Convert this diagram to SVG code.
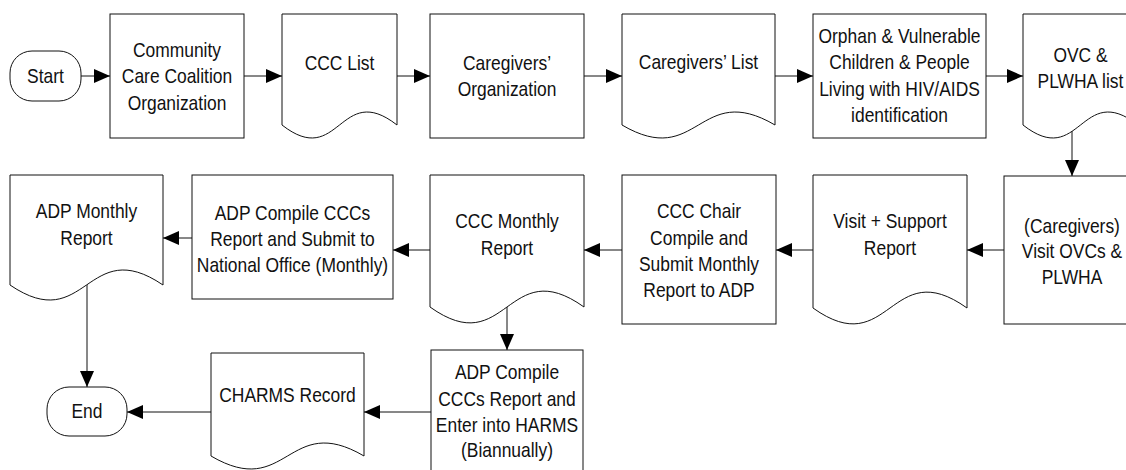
<svg xmlns="http://www.w3.org/2000/svg" width="1126" height="470" viewBox="0 0 1126 470">
<style>
.n{fill:#fff;stroke:#111;stroke-width:1}
.c{fill:none;stroke:#111;stroke-width:1}
.t{font-family:"Liberation Sans",Arial,sans-serif;font-size:20.5px;text-anchor:middle;fill:#111}
</style>
<defs>
<marker id="ah" markerUnits="userSpaceOnUse" markerWidth="16" markerHeight="14" refX="16" refY="7" orient="auto">
<path d="M0,0 L16,7 L0,14 Z" fill="#000"/>
</marker>
</defs>
<rect width="1126" height="470" fill="#fff"/>
<g id="connectors">
<path class="c" d="M81,76 H110" marker-end="url(#ah)"/>
<path class="c" d="M244,76 H282" marker-end="url(#ah)"/>
<path class="c" d="M397,76 H430" marker-end="url(#ah)"/>
<path class="c" d="M584,76 H622" marker-end="url(#ah)"/>
<path class="c" d="M775,76 H813" marker-end="url(#ah)"/>
<path class="c" d="M986,76 H1023" marker-end="url(#ah)"/>
<path class="c" d="M1072,128 V176" marker-end="url(#ah)"/>
<path class="c" d="M1004,250 H967" marker-end="url(#ah)"/>
<path class="c" d="M813,250 H776" marker-end="url(#ah)"/>
<path class="c" d="M622,250 H584" marker-end="url(#ah)"/>
<path class="c" d="M430,250 H393" marker-end="url(#ah)"/>
<path class="c" d="M192,238 H163" marker-end="url(#ah)"/>
<path class="c" d="M87,284 V387" marker-end="url(#ah)"/>
<path class="c" d="M507,307 V350" marker-end="url(#ah)"/>
<path class="c" d="M431,412 H364" marker-end="url(#ah)"/>
<path class="c" d="M211,412 H127" marker-end="url(#ah)"/>
</g>
<g id="start">
<rect class="n" x="10" y="51" width="71" height="50" rx="22"/>
<text class="t" transform="translate(45.5,0) scale(0.85,1)" x="0" y="83">Start</text>
</g>
<g id="ccc-org">
<rect class="n" x="110" y="14" width="134" height="124"/>
<g transform="translate(177,0) scale(0.85,1)">
<text class="t" x="0" y="57">Community</text>
<text class="t" x="0" y="83.5">Care Coalition</text>
<text class="t" x="0" y="110">Organization</text>
</g>
</g>
<g id="ccc-list">
<path class="n" d="M282,14 H397 V125 C339.5,80 339.5,170 282,125 Z"/>
<text class="t" transform="translate(339.5,0) scale(0.85,1)" x="0" y="70">CCC List</text>
</g>
<g id="cg-org">
<rect class="n" x="430" y="14" width="154" height="124"/>
<g transform="translate(507,0) scale(0.85,1)">
<text class="t" x="0" y="70">Caregivers’</text>
<text class="t" x="0" y="96">Organization</text>
</g>
</g>
<g id="cg-list">
<path class="n" d="M622,14 H775 V125 C698.5,80 698.5,170 622,125 Z"/>
<text class="t" transform="translate(698.5,0) scale(0.85,1)" x="0" y="69">Caregivers’ List</text>
</g>
<g id="ovc-id">
<rect class="n" x="813" y="14" width="173" height="124"/>
<g transform="translate(899.5,0) scale(0.85,1)">
<text class="t" x="0" y="43">Orphan &amp; Vulnerable</text>
<text class="t" x="0" y="69">Children &amp; People</text>
<text class="t" x="0" y="96">Living with HIV/AIDS</text>
<text class="t" x="0" y="122">identification</text>
</g>
</g>
<g id="ovc-list">
<path class="n" d="M1023,14 H1138 V125 C1080.5,80 1080.5,170 1023,125 Z"/>
<g transform="translate(1080.5,0) scale(0.85,1)">
<text class="t" x="0" y="62">OVC &amp;</text>
<text class="t" x="0" y="88">PLWHA list</text>
</g>
</g>
<g id="visit">
<rect class="n" x="1004" y="176" width="136" height="148"/>
<g transform="translate(1072,0) scale(0.85,1)">
<text class="t" x="0" y="233">(Caregivers)</text>
<text class="t" x="0" y="258">Visit OVCs &amp;</text>
<text class="t" x="0" y="284">PLWHA</text>
</g>
</g>
<g id="visit-report">
<path class="n" d="M813,175 H967 V308 C890,253 890,363 813,308 Z"/>
<g transform="translate(890,0) scale(0.85,1)">
<text class="t" x="0" y="228">Visit + Support</text>
<text class="t" x="0" y="255">Report</text>
</g>
</g>
<g id="ccc-chair">
<rect class="n" x="622" y="175" width="154" height="149"/>
<g transform="translate(699,0) scale(0.85,1)">
<text class="t" x="0" y="218">CCC Chair</text>
<text class="t" x="0" y="245">Compile and</text>
<text class="t" x="0" y="271">Submit Monthly</text>
<text class="t" x="0" y="297">Report to ADP</text>
</g>
</g>
<g id="ccc-monthly">
<path class="n" d="M430,175 H584 V307 C507,252 507,362 430,307 Z"/>
<g transform="translate(507,0) scale(0.85,1)">
<text class="t" x="0" y="228">CCC Monthly</text>
<text class="t" x="0" y="255">Report</text>
</g>
</g>
<g id="adp-compile">
<rect class="n" x="192" y="175" width="201" height="124"/>
<g transform="translate(292.5,0) scale(0.85,1)">
<text class="t" x="0" y="220">ADP Compile CCCs</text>
<text class="t" x="0" y="246">Report and Submit to</text>
<text class="t" x="0" y="272">National Office (Monthly)</text>
</g>
</g>
<g id="adp-monthly">
<path class="n" d="M10,175 H163 V285 C86.5,233 86.5,337 10,285 Z"/>
<g transform="translate(86.5,0) scale(0.85,1)">
<text class="t" x="0" y="218">ADP Monthly</text>
<text class="t" x="0" y="245">Report</text>
</g>
</g>
<g id="harms">
<rect class="n" x="431" y="350" width="152" height="130"/>
<g transform="translate(507,0) scale(0.85,1)">
<text class="t" x="0" y="379">ADP Compile</text>
<text class="t" x="0" y="406">CCCs Report and</text>
<text class="t" x="0" y="432">Enter into HARMS</text>
<text class="t" x="0" y="457">(Biannually)</text>
</g>
</g>
<g id="charms">
<path class="n" d="M211,353 H364 V456 C287.5,411 287.5,501 211,456 Z"/>
<text class="t" transform="translate(287.5,0) scale(0.85,1)" x="0" y="402">CHARMS Record</text>
</g>
<g id="end">
<rect class="n" x="47" y="387" width="80" height="49" rx="22"/>
<text class="t" transform="translate(87,0) scale(0.85,1)" x="0" y="418">End</text>
</g>
</svg>
